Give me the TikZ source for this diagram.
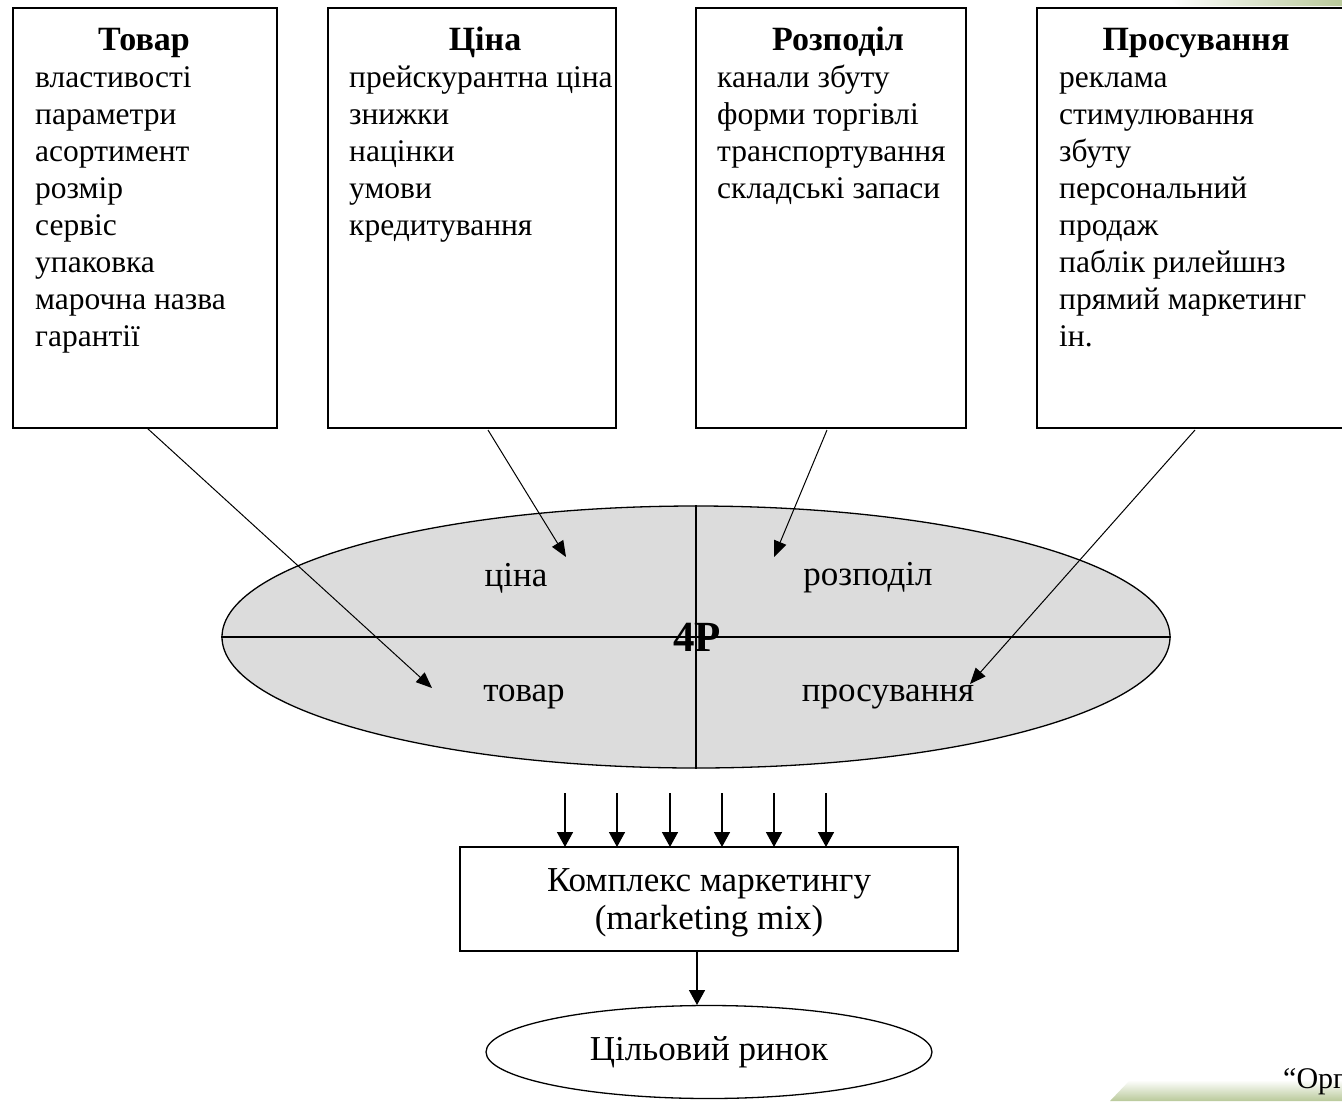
\documentclass[tikz,border=0pt]{standalone}
\usepackage{fontspec}
\setmainfont{Liberation Serif}
\usetikzlibrary{arrows.meta,shapes.geometric}
\definecolor{ovalgray}{HTML}{DCDCDC}
\definecolor{slidegreen}{HTML}{B9C99A}
\tikzset{
  box/.style={draw,line width=1.3pt},
  ttl/.style={font=\fontsize{34}{38}\selectfont\bfseries,anchor=base,inner sep=0pt},
  body/.style={font=\fontsize{31.5}{37}\selectfont,anchor=base west,inner sep=0pt},
  lbl/.style={font=\fontsize{35}{40}\selectfont},
  arr/.style={line width=1pt,-{Triangle[length=16pt,width=13pt]}},
  sarr/.style={line width=1.6pt,-{Triangle[length=15pt,width=16pt]}},
}
\begin{document}
\begin{tikzpicture}[x=1pt,y=-1pt]
\clip (0,0) rectangle (1342,1101);
\fill[white] (0,0) rectangle (1342,1101);
% slide decorations
\shade[left color=white,right color=slidegreen] (1170,0) -- (1342,0) -- (1342,6) -- (1180,6) -- cycle;
\shade[top color=white,bottom color=slidegreen] (1130,1080) -- (1342,1080) -- (1342,1101) -- (1110,1101) -- cycle;
\node[font=\fontsize{30}{34}\selectfont,anchor=base west,inner sep=0pt] (org) at (1283,1088) {“Орг};
% boxes
\draw[box] (13,8) rectangle (277,428);
\draw[box] (328,8) rectangle (616,428);
\draw[box] (696,8) rectangle (966,428);
\draw[box] (1037,8) rectangle (1360,428);
\coordinate (b1s) at (147,428);
\coordinate (b2s) at (488,430);
\coordinate (b3s) at (827,430);
\coordinate (b4s) at (1195,430);
\node[ttl] (t1) at (144,50) {Товар};
\node[ttl] (t2) at (485,50) {Ціна};
\node[ttl] (t3) at (838,50) {Розподіл};
\node[ttl] (t4) at (1196,50) {Просування};
\foreach \s [count=\i] in {властивості,параметри,асортимент,розмір,сервіс,упаковка,марочна назва,гарантії}
  \node[body] (la\i) at (35,50+37*\i) {\s};
\foreach \s [count=\i] in {прейскурантна ціна,знижки,націнки,умови,кредитування}
  \node[body] (lb\i) at (349,50+37*\i) {\s};
\foreach \s [count=\i] in {канали збуту,форми торгівлі,транспортування,складські запаси}
  \node[body] (lc\i) at (717,50+37*\i) {\s};
\foreach \s [count=\i] in {реклама,стимулювання,збуту,персональний,продаж,паблік рилейшнз,прямий маркетинг,ін.}
  \node[body] (ld\i) at (1059,50+37*\i) {\s};
% big ellipse
\node[ellipse,draw,fill=ovalgray,line width=1.3pt,minimum width=948pt,minimum height=262pt,inner sep=0pt] (ov) at (696,637) {};
\draw[line width=1.3pt] (ov.west) -- (ov.east);
\draw[line width=1.3pt] (ov.north) -- (ov.south);
\node[lbl] (q1) at (516,578) {ціна};
\node[lbl] (q2) at (868,578) {розподіл};
\node[lbl] (q3) at (524,697) {товар};
\node[lbl] (q4) at (888,697) {просування};
\node[font=\fontsize{43}{46}\selectfont\bfseries] (fp) at (697,637) {4P};
\coordinate (e1) at (432,688);
\coordinate (e2) at (566,557);
\coordinate (e3) at (774,557);
\coordinate (e4) at (970,684);
\draw[arr] (b1s) -- (e1);
\draw[arr] (b2s) -- (e2);
\draw[arr] (b3s) -- (e3);
\draw[arr] (b4s) -- (e4);
% marketing mix box
\node[draw,line width=1.3pt,minimum width=498pt,minimum height=104pt] (mix) at (709,899) {};
\node[align=center,font=\fontsize{35}{38}\selectfont] (mixt) at (709,903) {Комплекс маркетингу\\(marketing mix)};
\foreach \x [count=\i] in {565,617,670,722,774,826}{
  \coordinate (s\i) at (\x,793);
  \draw[sarr] (s\i) -- (\x,847);
}
% target market
\node[ellipse,draw,line width=1.3pt,minimum width=446pt,minimum height=93pt,inner sep=0pt,font=\fontsize{35}{40}\selectfont] (tm) at (709,1052) {Цільовий ринок};
\draw[sarr] (mix.south -| 697,0) -- (697,1005);
\end{tikzpicture}
\end{document}
